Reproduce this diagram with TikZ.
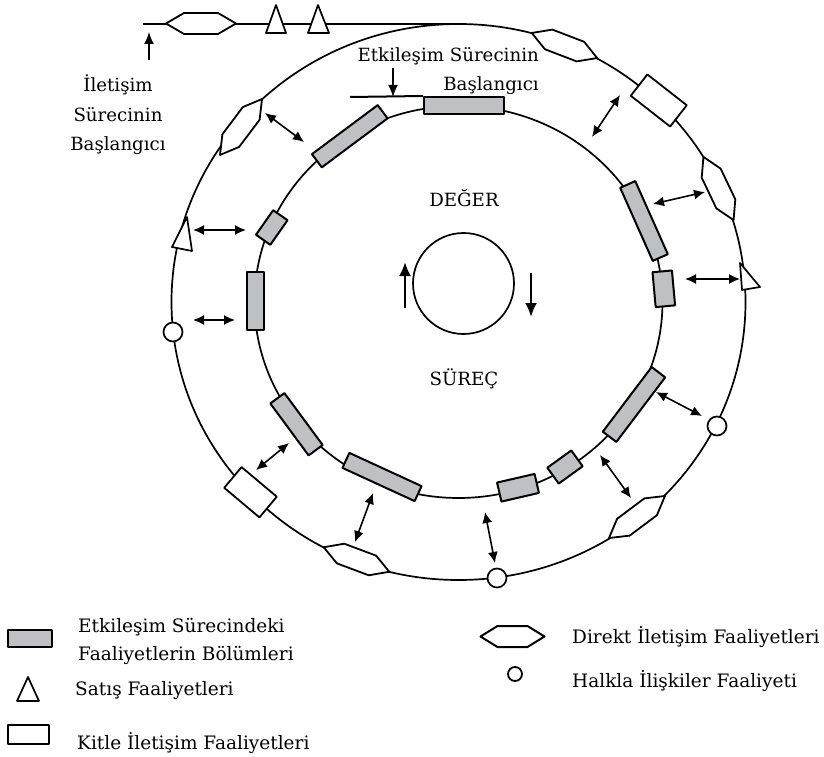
\documentclass[tikz,border=0pt]{standalone}
\usepackage{fontspec}
\setmainfont{DejaVu Serif}
\usetikzlibrary{arrows.meta}
\definecolor{rectgray}{RGB}{190,192,196}
\newcommand{\hexat}[4]{%
  \coordinate (#1) at (#2,#3);
  \draw[hexln, shift={(#2,#3)}, rotate=#4] (-35,0) -- (-17,-10.5) -- (17,-10.5) -- (35,0) -- (17,10.5) -- (-17,10.5) -- cycle;}
\begin{document}
\begin{tikzpicture}[x=1pt,y=-1pt, line join=round,
  ln/.style={line width=1.7pt},
  grect/.style={draw, fill=rectgray, line width=2pt, inner sep=0pt, rectangle},
  wrect/.style={draw, fill=white, line width=1.8pt, inner sep=0pt, rectangle},
  hexln/.style={draw, fill=white, line width=1.8pt},
  tri/.style={draw, fill=white, line width=1.7pt},
  circ/.style={circle, draw, fill=white, line width=1.7pt, inner sep=0pt, minimum size=19pt},
  dbl/.style={line width=1.6pt, {Latex[length=11pt,width=10pt]}-{Latex[length=11pt,width=10pt]}},
  sgl/.style={line width=1.7pt, -{Latex[length=12pt,width=10pt]}},
  big/.style={line width=2.2pt, -{Latex[length=14pt,width=12pt]}},
  txt/.style={inner sep=0pt, font=\fontsize{18.2}{20}\selectfont},
  ltxt/.style={inner sep=0pt, font=\fontsize{18.5}{20}\selectfont, anchor=base west},
]
\useasboundingbox (0,0) rectangle (824,757);

% rings
\draw[ln] (458.5,302) ellipse [x radius=287pt, y radius=278pt];
\draw[ln] (458.5,302) ellipse [x radius=204pt, y radius=196pt];
\draw[ln] (463.5,283.5) circle [radius=50.5pt];

% top line
\coordinate (lstart) at (143,24);
\coordinate (ltop) at (458.5,24);
\draw[ln] (lstart) -- (ltop);

% inner gray rectangles
\node[grect, minimum width=80pt, minimum height=17pt] (r1) at (464,105.5) {};
\node[grect, minimum width=82pt, minimum height=16.5pt, rotate=36.7] (r2) at (349.75,136.25) {};
\node[grect, minimum width=30pt, minimum height=17.5pt, rotate=55] (r3) at (271.75,227.5) {};
\node[grect, minimum width=58pt, minimum height=17.5pt, rotate=90] (r4) at (255.5,301) {};
\node[grect, minimum width=80pt, minimum height=16.5pt, rotate=-66] (r5) at (644,221) {};
\node[grect, minimum width=35pt, minimum height=19.5pt, rotate=-84.8] (r6) at (663.8,288.8) {};
\node[grect, minimum width=81pt, minimum height=17pt, rotate=52.9] (r7) at (634,404.5) {};
\node[grect, minimum width=29.5pt, minimum height=19.5pt, rotate=35.8] (r8) at (565,467) {};
\node[grect, minimum width=38.5pt, minimum height=19.5pt, rotate=13] (r9) at (518,487.75) {};
\node[grect, minimum width=79.5pt, minimum height=16.5pt, rotate=-24.7] (r10) at (382,477) {};
\node[grect, minimum width=64.5pt, minimum height=17.5pt, rotate=-53.6] (r11) at (296.5,424.25) {};

% outer white rectangles
\node[wrect, minimum width=50pt, minimum height=27pt, rotate=-38] (w1) at (658.75,100.5) {};
\node[wrect, minimum width=46pt, minimum height=27pt, rotate=-40] (w2) at (250.5,492.25) {};

% hexagons
\hexat{h0}{201}{23.5}{0}
\hexat{h1}{564.5}{45.5}{-21}
\hexat{h2}{718.5}{188.5}{-64.5}
\hexat{h3}{637}{517}{36.9}
\hexat{h4}{356.5}{559.5}{-20.5}
\hexat{h5}{241}{127}{53.1}

% triangles
\draw[tri] (266,33) -- (276,5) -- (286,33) -- cycle;
\draw[tri] (308,33) -- (318,5) -- (329,33) -- cycle;
\draw[tri] (740,263) -- (760,287) -- (742,290) -- cycle;
\draw[tri] (187,217) -- (172,247) -- (192,251) -- cycle;

% circles on outer ring
\node[circ] (c1) at (173,332) {};
\node[circ] (c2) at (717,426) {};
\node[circ] (c3) at (497,578) {};

% double arrows
\coordinate (a1s) at (265,113); \coordinate (a1e) at (304,142);
\coordinate (a2s) at (193,230); \coordinate (a2e) at (246,230);
\coordinate (a3s) at (193,320); \coordinate (a3e) at (235,320);
\coordinate (a4s) at (592,137); \coordinate (a4e) at (620,95);
\coordinate (a5s) at (653,204); \coordinate (a5e) at (705,192);
\coordinate (a6s) at (685,279); \coordinate (a6e) at (740,279);
\coordinate (a7s) at (656,392); \coordinate (a7e) at (702,416);
\coordinate (a8s) at (600,455); \coordinate (a8e) at (631,498);
\coordinate (a9s) at (485,512); \coordinate (a9e) at (495,563);
\coordinate (a10s) at (373,493); \coordinate (a10e) at (355,542);
\coordinate (a11s) at (289,443); \coordinate (a11e) at (256,470);
\foreach \i in {1,...,11} \draw[dbl] (a\i s) -- (a\i e);

% start markers
\coordinate (hstart) at (350,97);
\draw[line width=2pt] (hstart) -- (r1.north west);
\coordinate (ea) at (393,68); \coordinate (eb) at (393,97);
\draw[sgl] (ea) -- (eb);
\coordinate (ia) at (149,60); \coordinate (ib) at (149,32);
\draw[sgl] (ia) -- (ib);

% center arrows
\coordinate (ua) at (405,308); \coordinate (ub) at (405,262);
\draw[big] (ua) -- (ub);
\coordinate (da) at (531,273); \coordinate (db) at (531,317);
\draw[big] (da) -- (db);

% texts
\node[txt, anchor=base east] (t1) at (539,62) {Etkileşim Sürecinin};
\node[txt, anchor=base east] (t2) at (539,91) {Başlangıcı};
\node[txt, anchor=base] (t3) at (118,91.7) {İletişim};
\node[txt, anchor=base] (t4) at (118,121.7) {Sürecinin};
\node[txt, anchor=base] (t5) at (118,150.7) {Başlangıcı};
\node[txt, anchor=base] (t6) at (464,206) {DEĞER};
\node[txt, anchor=base] (t7) at (464,385) {SÜREÇ};

% legend
\node[grect, minimum width=44pt, minimum height=17pt] (lg1) at (30,638.5) {};
\node[ltxt] (lt1) at (78,632) {Etkileşim Sürecindeki};
\node[ltxt] (lt2) at (78,660) {Faaliyetlerin Bölümleri};
\draw[tri] (17,701) -- (28,677) -- (39,701) -- cycle;
\node[ltxt] (lt3) at (75,695) {Satış Faaliyetleri};
\node[wrect, minimum width=41pt, minimum height=19pt, line width=2pt] (lg2) at (28.5,734.5) {};
\node[ltxt] (lt4) at (77,749) {Kitle İletişim Faaliyetleri};
\draw[hexln, line width=2pt, shift={(512.5,636.5)}] (-32,0) -- (-15,-10.5) -- (15,-10.5) -- (32,0) -- (15,10.5) -- (-15,10.5) -- cycle;
\coordinate (lg3) at (512.5,636.5);
\node[ltxt] (lt5) at (572,643) {Direkt İletişim Faaliyetleri};
\node[circle, draw, line width=1.8pt, inner sep=0pt, minimum size=14pt] (lg4) at (515,674) {};
\node[ltxt] (lt6) at (572,687) {Halkla İlişkiler Faaliyeti};
\end{tikzpicture}
\end{document}
